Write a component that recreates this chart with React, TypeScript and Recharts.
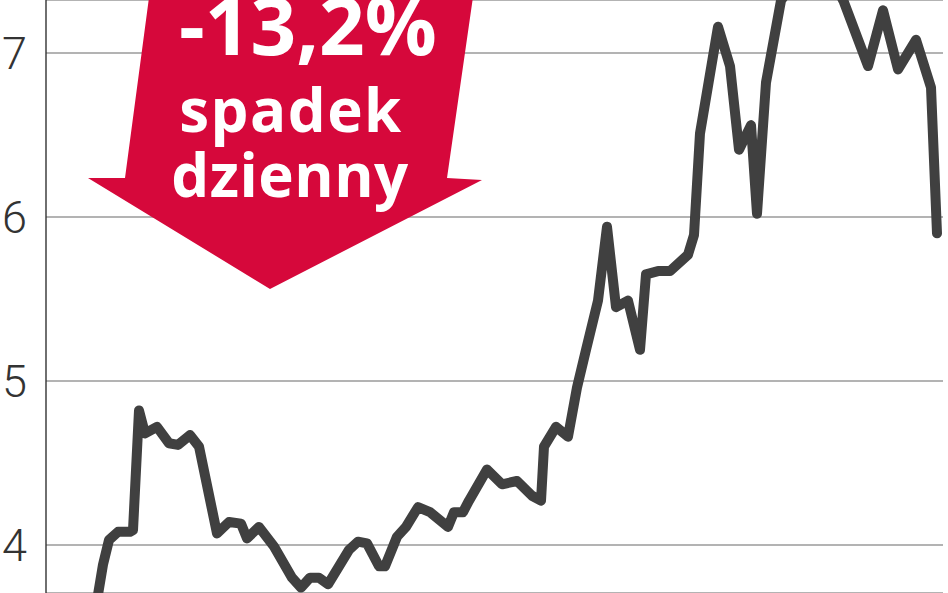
import { CartesianGrid, Line, LineChart, XAxis, YAxis } from "recharts";

// trading-day index (0..299) and closing price
const days = [
  17, 19, 21, 24, 28, 29, 31, 33, 37, 41, 44, 48, 51, 57, 61, 65, 67, 71, 76,
  82, 85, 88, 91, 94, 97, 101, 104, 107, 111, 113, 117, 120, 124, 128, 134,
  136, 139, 141, 147, 152, 157, 162, 165, 166, 170, 174, 177, 180, 184, 187,
  190, 194, 198, 200, 204, 208, 214, 216, 218, 224, 228, 231, 235, 237, 240,
  245, 250, 256, 263, 266, 274, 279, 284, 290, 295, 297,
];
const prices = [
  3.66, 3.88, 4.03, 4.08, 4.08, 4.09, 4.82, 4.68, 4.72, 4.62, 4.61, 4.67,
  4.6, 4.07, 4.14, 4.13, 4.04, 4.11, 3.99, 3.8, 3.74, 3.8, 3.8, 3.76, 3.85,
  3.97, 4.02, 4.01, 3.87, 3.87, 4.05, 4.11, 4.23, 4.2, 4.11, 4.2, 4.2, 4.27,
  4.46, 4.37, 4.39, 4.3, 4.27, 4.6, 4.72, 4.66, 4.96, 5.19, 5.49, 5.94, 5.45,
  5.49, 5.19, 5.65, 5.67, 5.67, 5.77, 5.89, 6.51, 7.16, 6.92, 6.41, 6.56,
  6.02, 6.82, 7.32, 7.45, 7.5, 7.42, 7.31, 6.92, 7.26, 6.9, 7.08, 6.79, 5.9,
];
const yTicks = [4, 5, 6, 7];

const data = days.map((d, i) => ({ day: d, price: prices[i] }));

const RED = "#d6083b";

export default function App() {
  return (
    <div style={{ position: "absolute", left: 0, top: 0, width: 948, height: 593, background: "#fff" }}>
      <LineChart
        width={948}
        height={593}
        data={data}
        margin={{ top: 0, right: 5, bottom: 0, left: 0 }}
      >
        <CartesianGrid vertical={false} stroke="#9a9a9a" strokeWidth={1.6} />
        <XAxis dataKey="day" type="number" domain={[0, 299]} hide />
        <YAxis
          type="number"
          domain={[3.707, 7.323]}
          allowDataOverflow
          ticks={yTicks}
          width={46}
          tickLine={false}
          tickMargin={13}
          axisLine={{ stroke: "#333", strokeWidth: 1.4 }}
          tick={{ fill: "#333", fontSize: 45, fontFamily: "Roboto", fontWeight: 300 }}
        />
        <Line
          type="linear"
          dataKey="price"
          stroke="#404040"
          strokeWidth={10}
          strokeLinejoin="round"
          strokeLinecap="round"
          dot={false}
          isAnimationActive={false}
        />
      </LineChart>
      <svg
        width={948}
        height={593}
        style={{ position: "absolute", left: 0, top: 0, pointerEvents: "none" }}
      >
        <polygon
          points="150,-10 125,178 88,178 270,289 482,180 447,178 474,-10"
          fill={RED}
        />
        <g fill="#fff" fontFamily="'Open Sans'" fontWeight={700} textAnchor="middle">
          <text x={308} y={55} fontSize={80}>-13,2%</text>
          <text x={291} y={132} fontSize={60} letterSpacing={1.5}>spadek</text>
          <text x={290} y={197} fontSize={60} letterSpacing={0.5}>dzienny</text>
        </g>
      </svg>
    </div>
  );
}
